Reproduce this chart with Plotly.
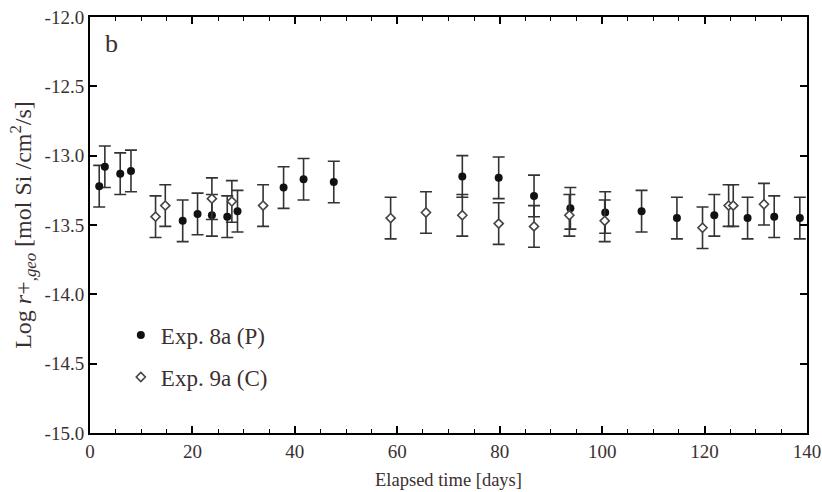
import plotly.graph_objects as go

# Exp. 8a (P) - filled circles
days_p = [1.8, 2.9, 5.9, 8.0, 18.1, 21.0, 23.8, 26.8, 28.8, 37.8, 41.7, 47.6,
          72.7, 79.8, 86.7, 93.8, 100.6, 107.7, 114.6, 121.9, 128.4, 133.6, 138.6]
logr_p = [-13.22, -13.08, -13.13, -13.11, -13.47, -13.42, -13.43, -13.44, -13.40,
          -13.23, -13.17, -13.19, -13.15, -13.16, -13.29, -13.38, -13.41, -13.40,
          -13.45, -13.43, -13.45, -13.44, -13.45]
err_p = [0.15] * len(days_p)

# Exp. 9a (C) - open diamonds
days_c = [12.8, 14.7, 23.8, 27.7, 33.8, 58.7, 65.6, 72.7, 79.8, 86.7, 93.6,
          100.5, 119.6, 124.7, 125.6, 131.6]
logr_c = [-13.44, -13.36, -13.31, -13.33, -13.36, -13.45, -13.41, -13.43, -13.49,
          -13.51, -13.43, -13.47, -13.52, -13.36, -13.36, -13.35]
err_c = [0.15] * len(days_c)

x_ticks = [0, 20, 40, 60, 80, 100, 120, 140]
y_ticks = [-15.0, -14.5, -14.0, -13.5, -13.0, -12.5, -12.0]
y_ticktext = ["-15.0", "-14.5", "-14.0", "-13.5", "-13.0", "-12.5", "-12.0"]

serif = "Liberation Serif"
txt = "#3a3030"

fig = go.Figure()
fig.add_trace(go.Scatter(
    x=days_p, y=logr_p, mode="markers", name="Exp. 8a (P)",
    legendgroup="p",
    marker=dict(symbol="circle", size=8, color="#111111"),
    error_y=dict(type="data", array=err_p, visible=True, color="#333333",
                 thickness=1.6, width=6),
))
fig.add_trace(go.Scatter(
    x=days_c, y=logr_c, mode="markers", name="Exp. 9a (C)",
    legendgroup="c",
    marker=dict(symbol="diamond", size=7, color="white",
                line=dict(color="#444444", width=1.6)),
    error_y=dict(type="data", array=err_c, visible=True, color="#333333",
                 thickness=1.6, width=6),
))

axis_common = dict(
    showline=True, linecolor="black", linewidth=2, mirror="ticks",
    ticks="inside", tickcolor="black", tickwidth=1.5, ticklen=7,
    showgrid=False, zeroline=False, automargin=False,
    tickfont=dict(family=serif, size=19, color=txt),
)

fig.update_xaxes(range=[0, 140], tickvals=x_ticks,
                 minor=dict(ticks="inside", dtick=5, ticklen=4, tickcolor="black", tickwidth=1),
                 title=dict(text="Elapsed time [days]", font=dict(family=serif, size=18.5, color=txt),
                            standoff=12),
                 **axis_common)
fig.update_yaxes(range=[-15, -12], tickvals=y_ticks, ticktext=y_ticktext,
                 title=dict(text="Log <i>r</i>+<sub>,<i>geo</i></sub> [mol Si /cm<sup>2</sup>/s]",
                            font=dict(family=serif, size=24, color=txt), standoff=6),
                 **axis_common)

fig.add_annotation(x=0.018, y=0.975, xref="paper", yref="paper", text="b",
                   showarrow=False, xanchor="left", yanchor="top",
                   font=dict(family=serif, size=26, color=txt))

fig.update_layout(
    width=822, height=492,
    margin=dict(l=90, r=15, t=17, b=59),
    plot_bgcolor="white", paper_bgcolor="white",
    showlegend=True,
    legend=dict(x=0.043, y=0.287, xanchor="left", yanchor="top",
                font=dict(family=serif, size=23, color=txt),
                bgcolor="rgba(0,0,0,0)", tracegroupgap=9, traceorder="grouped"),
)

fig.write_html("out.html", config={"displayModeBar": False},
               post_script="document.body.style.margin='0px';")
